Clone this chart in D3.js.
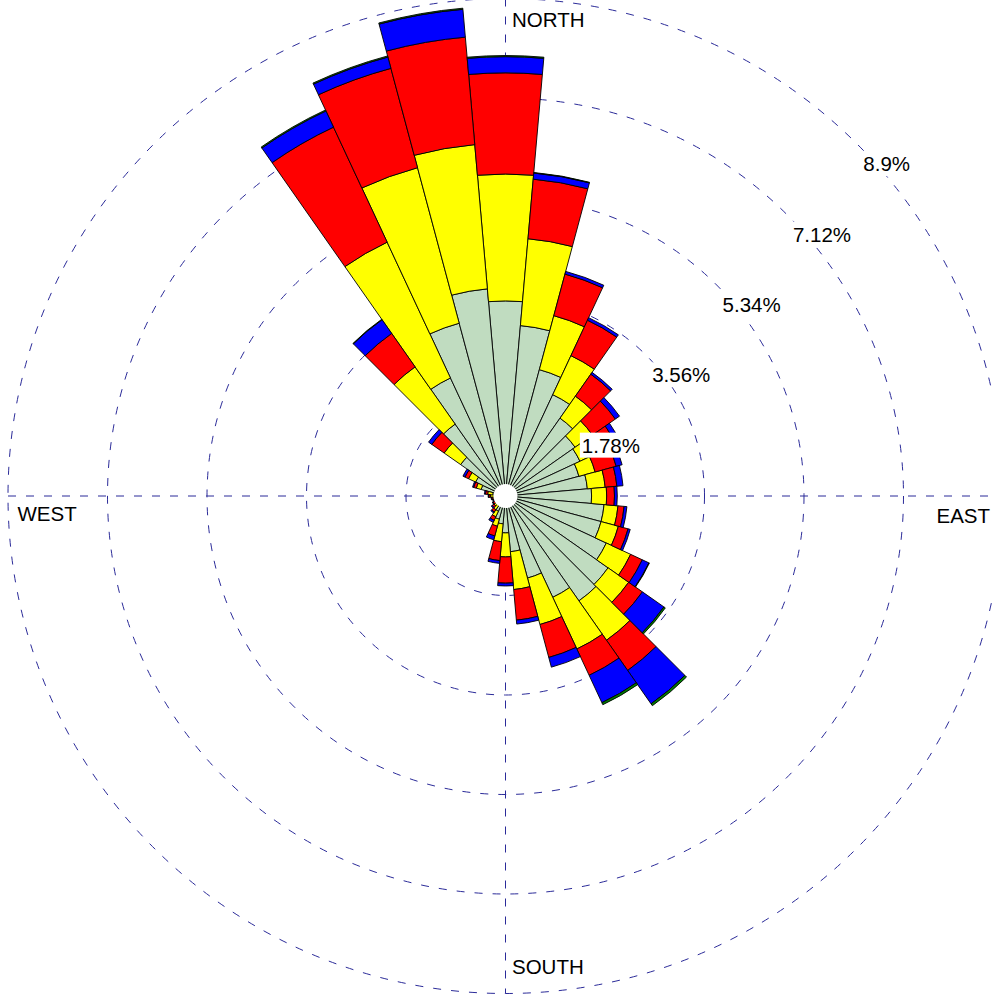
<!DOCTYPE html>
<html>
<head>
<meta charset="utf-8">
<script src="https://cdn.jsdelivr.net/npm/d3@7"></script>
<style>
    body { margin: 0; background: #fff; }
    text { font-family: "Liberation Sans", Arial, sans-serif; }
</style>
</head>
<body>
<div id="chart"></div>
<script>
// Wind rose - 36 sectors, frequency (%) per speed class
const directions = d3.range(0, 360, 10);

const classNames = ["class1", "class2", "class3", "class4", "class5"];
const classColors = ["#c0dcc0", "#ffff00", "#ff0000", "#0000ff", "#008000"];

// one value per direction (0, 10, ... 350 deg), in percent
const class1 = [3.49, 3.06, 2.34, 2.00, 1.70, 1.52, 1.47, 1.36, 1.47, 1.54, 1.77, 1.77,
                1.99, 2.24, 2.29, 2.00, 1.52, 1.00, 0.66, 0.50, 0.43, 0.30, 0.21, 0.18,
                0.16, 0.16, 0.18, 0.20, 0.23, 0.45, 0.59, 0.98, 1.57, 2.33, 3.20, 3.72];
const class2 = [2.27, 1.56, 1.00, 0.77, 0.48, 0.38, 0.32, 0.30, 0.32, 0.27, 0.25, 0.32,
                0.48, 0.45, 0.86, 1.02, 0.86, 0.68, 0.43, 0.32, 0.13, 0.11, 0.09, 0.07,
                0.05, 0.05, 0.05, 0.07, 0.09, 0.09, 0.14, 0.36, 1.25, 2.68, 2.88, 2.59];
const class3 = [1.81, 1.07, 0.77, 0.70, 0.48, 0.50, 0.39, 0.39, 0.21, 0.14, 0.11, 0.18,
                0.23, 0.30, 0.66, 0.52, 0.61, 0.55, 0.47, 0.34, 0.18, 0.07, 0.05, 0.04,
                0.04, 0.02, 0.02, 0.03, 0.04, 0.05, 0.07, 0.27, 0.73, 2.27, 1.84, 1.93];
const class4 = [0.29, 0.11, 0.05, 0.05, 0.04, 0.09, 0.09, 0.11, 0.11, 0.05, 0.05, 0.04,
                0.13, 0.47, 0.73, 0.54, 0.18, 0.07, 0.05, 0.05, 0.07, 0.04, 0.02, 0.02,
                0.01, 0.01, 0.01, 0.01, 0.02, 0.02, 0.04, 0.07, 0.30, 0.32, 0.21, 0.50];
const class5 = [0.02, 0.01, 0.00, 0.00, 0.00, 0.00, 0.00, 0.00, 0.00, 0.00, 0.00, 0.00,
                0.01, 0.03, 0.04, 0.04, 0.00, 0.00, 0.00, 0.00, 0.00, 0.00, 0.00, 0.00,
                0.00, 0.00, 0.00, 0.00, 0.00, 0.00, 0.00, 0.00, 0.01, 0.02, 0.02, 0.02];

const ringValues = [1.78, 3.56, 5.34, 7.12, 8.9];
const ringLabels = ["1.78%", "3.56%", "5.34%", "7.12%", "8.9%"];
const compassLabels = ["NORTH", "EAST", "SOUTH", "WEST"];

const width = 992;
const height = 995;
const cx = 505.5;
const cy = 496;
const outerR = 497.5;

const r = d3.scaleLinear().domain([0, 8.9]).range([0, outerR]);
const rad = d => d * Math.PI / 180;

const svg = d3.select("#chart")
    .append("svg")
    .attr("width", width)
    .attr("height", height);

const g = svg.append("g")
    .attr("transform", `translate(${cx},${cy})`);

// Grid rings and axes
const gridColor = "#2b2b99";
g.selectAll(".ring")
    .data(ringValues)
    .join("circle")
    .attr("class", "ring")
    .attr("r", d => r(d))
    .attr("fill", "none")
    .attr("stroke", gridColor)
    .attr("stroke-width", 1)
    .attr("stroke-dasharray", "8,10");

g.append("line")
    .attr("x1", -outerR).attr("x2", outerR)
    .attr("y1", 0).attr("y2", 0)
    .attr("stroke", gridColor)
    .attr("stroke-dasharray", "8,10");

g.append("line")
    .attr("x1", 0).attr("x2", 0)
    .attr("y1", -outerR).attr("y2", outerR)
    .attr("stroke", gridColor)
    .attr("stroke-dasharray", "8,10");

// Stack the speed classes per direction
const table = directions.map((dir, i) => ({
    dir,
    class1: class1[i], class2: class2[i], class3: class3[i], class4: class4[i], class5: class5[i]
}));
const series = d3.stack().keys(classNames)(table);

const arc = d3.arc()
    .innerRadius(d => r(d[0]))
    .outerRadius(d => r(d[1]))
    .startAngle(d => rad(d.data.dir - 5))
    .endAngle(d => rad(d.data.dir + 5));

g.selectAll(".layer")
    .data(series)
    .join("g")
    .attr("class", "layer")
    .attr("fill", (d, i) => classColors[i])
    .selectAll("path")
    .data(d => d.filter(s => s[1] - s[0] > 0))
    .join("path")
    .attr("d", arc)
    .attr("stroke", "#000")
    .attr("stroke-width", 0.9)
    .attr("stroke-linejoin", "round");

g.append("circle")
    .attr("r", 12)
    .attr("fill", "#fff");

// Ring labels along the 45 degree diagonal
const labelG = g.selectAll(".ring-label")
    .data(ringValues)
    .join("g")
    .attr("class", "ring-label")
    .attr("transform", d => `translate(${r(d) * Math.SQRT1_2 + 6},${-r(d) * Math.SQRT1_2 + 27})`);

labelG.append("rect").attr("fill", "#fff");
labelG.append("text")
    .attr("font-size", "20.5px")
    .attr("fill", "#000")
    .text((d, i) => ringLabels[i]);
labelG.each(function() {
    const bb = d3.select(this).select("text").node().getBBox();
    d3.select(this).select("rect")
        .attr("x", bb.x - 2).attr("y", bb.y - 1)
        .attr("width", bb.width + 4).attr("height", bb.height + 2);
});

// Compass labels
const compassPos = [
    { x: 6.5, y: -outerR + 28, anchor: "start" },
    { x: 484.5, y: 27, anchor: "end" },
    { x: 6.5, y: outerR - 20, anchor: "start" },
    { x: -outerR + 9.5, y: 25, anchor: "start" }
];
g.selectAll(".compass")
    .data(compassLabels)
    .join("text")
    .attr("class", "compass")
    .attr("x", (d, i) => compassPos[i].x)
    .attr("y", (d, i) => compassPos[i].y)
    .attr("text-anchor", (d, i) => compassPos[i].anchor)
    .attr("font-size", "20.5px")
    .attr("fill", "#000")
    .text(d => d);
</script>
</body>
</html>
